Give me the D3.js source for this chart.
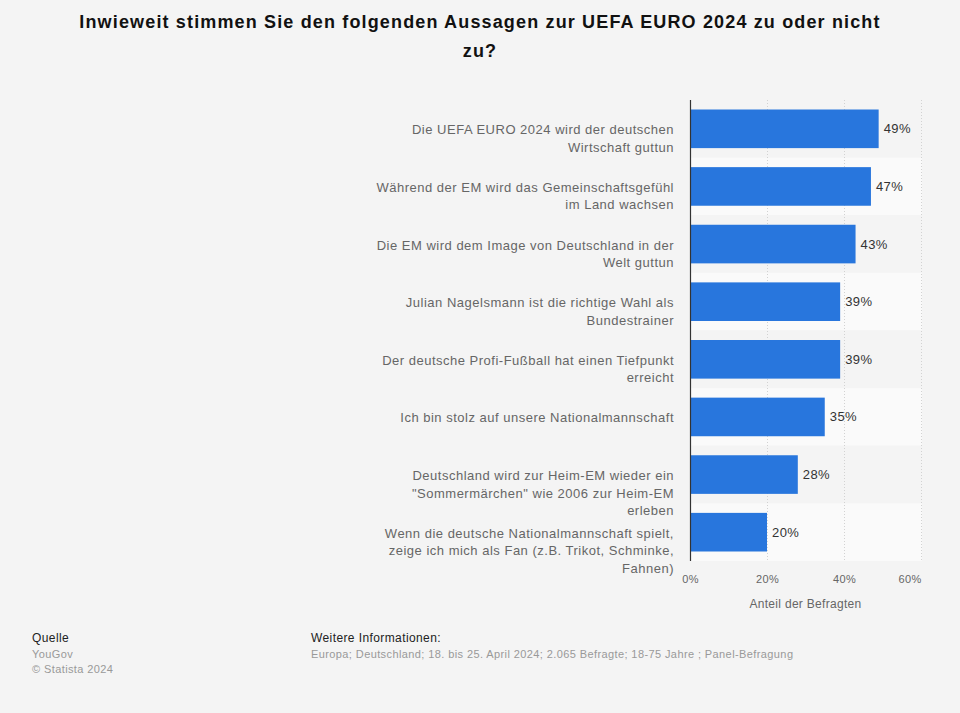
<!DOCTYPE html>
<html>
<head>
<meta charset="utf-8">
<script src="https://cdn.jsdelivr.net/npm/d3@7"></script>
<style>
  html, body { margin: 0; padding: 0; background: #f4f4f4; }
  svg { display: block; font-family: "Liberation Sans", Arial, Helvetica, sans-serif; }
</style>
</head>
<body>
<svg id="chart" width="960" height="713"></svg>
<script>
const titleLines = ["Inwieweit stimmen Sie den folgenden Aussagen zur UEFA EURO 2024 zu oder nicht", "zu?"];
const categories = [
  "Die UEFA EURO 2024 wird der deutschen\nWirtschaft guttun",
  "Während der EM wird das Gemeinschaftsgefühl\nim Land wachsen",
  "Die EM wird dem Image von Deutschland in der\nWelt guttun",
  "Julian Nagelsmann ist die richtige Wahl als\nBundestrainer",
  "Der deutsche Profi-Fußball hat einen Tiefpunkt\nerreicht",
  "Ich bin stolz auf unsere Nationalmannschaft",
  "Deutschland wird zur Heim-EM wieder ein\n\"Sommermärchen\" wie 2006 zur Heim-EM\nerleben",
  "Wenn die deutsche Nationalmannschaft spielt,\nzeige ich mich als Fan (z.B. Trikot, Schminke,\nFahnen)"
];
const values = [49, 47, 43, 39, 39, 35, 28, 20];
const xTicks = [0, 20, 40, 60];
const xAxisTitle = "Anteil der Befragten";
const sourceLines = ["Quelle", "YouGov", "© Statista 2024"];
const infoLines = ["Weitere Informationen:", "Europa; Deutschland; 18. bis 25. April 2024; 2.065 Befragte; 18-75 Jahre ; Panel-Befragung"];

const svg = d3.select("#chart");
const margin = { left: 690, right: 39, top: 100, bottom: 152 };
const W = 960, H = 713;
const plotW = W - margin.left - margin.right;
const plotH = H - margin.top - margin.bottom;

const x = d3.scaleLinear().domain([0, 60]).range([0, plotW]);
const y = d3.scaleBand().domain(categories).range([0, plotH]).paddingInner(0).paddingOuter(0);
const barPad = 0.33;

// Title
svg.append("g").selectAll("text").data(titleLines).join("text")
  .attr("x", 480).attr("y", (d, i) => 28 + i * 29)
  .attr("text-anchor", "middle")
  .attr("font-size", 18).attr("font-weight", "bold").attr("fill", "#111")
  .attr("letter-spacing", 1.15)
  .text(d => d);

const g = svg.append("g").attr("transform", `translate(${margin.left},${margin.top})`);

// Stripes
g.append("g").selectAll("rect").data(categories).join("rect")
  .attr("x", 0).attr("y", d => y(d)).attr("width", x(60) + 1).attr("height", y.bandwidth())
  .attr("fill", (d, i) => i % 2 === 1 ? "#fafafa" : "#f4f4f4");

// Gridlines
g.append("g").selectAll("line").data(xTicks.filter(t => t > 0)).join("line")
  .attr("x1", d => x(d) + 0.5).attr("x2", d => x(d) + 0.5)
  .attr("y1", 0).attr("y2", plotH)
  .attr("stroke", "#d2d2d2").attr("stroke-width", 1).attr("stroke-dasharray", "1,2");

// Bars
const bh = y.bandwidth() * (1 - barPad);
g.append("g").selectAll("rect").data(values).join("rect")
  .attr("x", 0)
  .attr("y", (d, i) => y(categories[i]) + (y.bandwidth() - bh) / 2)
  .attr("width", d => x(d))
  .attr("height", bh)
  .attr("fill", "#2876dd");

// Value labels
g.append("g").selectAll("text").data(values).join("text")
  .attr("x", d => x(d) + 5)
  .attr("y", (d, i) => y(categories[i]) + y.bandwidth() / 2)
  .attr("dy", "0.35em")
  .attr("font-size", 13).attr("fill", "#333").attr("letter-spacing", 0.4)
  .text(d => d + "%");

// Axis line (category axis)
g.append("line").attr("x1", 0.5).attr("x2", 0.5).attr("y1", 0).attr("y2", plotH)
  .attr("stroke", "#333").attr("stroke-width", 1.2);

// Category labels
const catG = g.append("g");
categories.forEach((c, i) => {
  const lines = c.split("\n");
  const t = catG.append("text")
    .attr("x", -16)
    .attr("y", y(c) + y.bandwidth() / 2 + 1)
    .attr("text-anchor", "end")
    .attr("font-size", 13).attr("fill", "#666").attr("letter-spacing", 0.5);
  lines.forEach((l, j) => {
    t.append("tspan").attr("x", -16).attr("dy", j === 0 ? "0.35em" : "17.5").text(l);
  });
});

// X axis
const xAxis = d3.axisBottom(x).tickValues(xTicks).tickFormat(d => d + "%").tickSize(0).tickPadding(0);
const ax = g.append("g").attr("transform", `translate(0,${plotH + 14})`).call(xAxis);
ax.select(".domain").remove();
ax.selectAll("text").attr("font-size", 11).attr("fill", "#666").attr("letter-spacing", 0.3)
  .attr("font-family", "\"Liberation Sans\", Arial, sans-serif")
  .attr("text-anchor", (d, i) => i === xTicks.length - 1 ? "end" : "middle");

g.append("text").attr("x", plotW / 2).attr("y", plotH + 47)
  .attr("text-anchor", "middle").attr("font-size", 12).attr("fill", "#666").attr("letter-spacing", 0.3)
  .text(xAxisTitle);

// Footer
svg.append("g").selectAll("text").data(sourceLines).join("text")
  .attr("x", 32).attr("y", (d, i) => 642 + i * 15.5)
  .attr("font-size", (d, i) => i === 0 ? 12 : 11)
  .attr("fill", (d, i) => i === 0 ? "#222" : "#999")
  .attr("letter-spacing", 0.4)
  .text(d => d);

svg.append("g").selectAll("text").data(infoLines).join("text")
  .attr("x", 311).attr("y", (d, i) => 642 + i * 15.5)
  .attr("font-size", (d, i) => i === 0 ? 12 : 11)
  .attr("fill", (d, i) => i === 0 ? "#222" : "#999")
  .attr("letter-spacing", 0.4)
  .text(d => d);
</script>
</body>
</html>
